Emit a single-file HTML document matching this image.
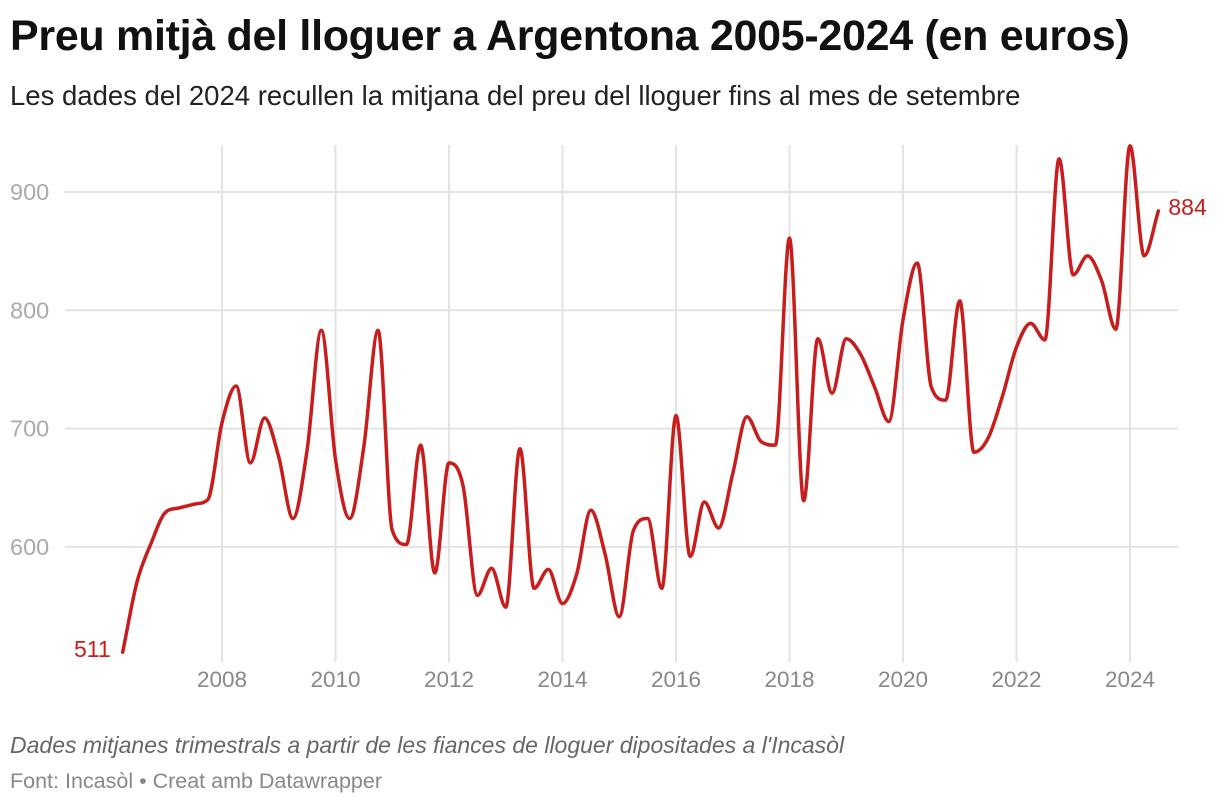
<!DOCTYPE html>
<html><head><meta charset="utf-8"><style>
body{margin:0;background:#fff;font-family:"Liberation Sans",sans-serif;}
.t{position:absolute;left:10px;top:12px;font-size:43px;font-weight:bold;color:#111;letter-spacing:-0.3px;white-space:nowrap;}
.s{position:absolute;left:10px;top:80px;font-size:27.5px;color:#222;white-space:nowrap;}
.n{position:absolute;left:10px;top:732px;font-size:23px;font-style:italic;color:#666;white-space:nowrap;}
.f{position:absolute;left:10px;top:769px;font-size:21.5px;color:#888;white-space:nowrap;}
</style></head><body>
<div class="t">Preu mitjà del lloguer a Argentona 2005-2024 (en euros)</div>
<div class="s">Les dades del 2024 recullen la mitjana del preu del lloguer fins al mes de setembre</div>
<svg id="c" width="1220" height="806" style="position:absolute;left:0;top:0"></svg>
<div class="n">Dades mitjanes trimestrals a partir de les fiances de lloguer dipositades a l'Incasòl</div>
<div class="f">Font: Incasòl • Creat amb Datawrapper</div>
<script>
const startYear = 2006.25;
const values = [511,570,603,629,633,636,640,705,736,671,709,676,624,682,783,674,624,685,783,614,602,686,578,671,651,559,582,549,683,565,581,552,577,631,594,541,614,624,565,711,592,638,616,662,710,689,686,861,639,776,730,776,763,735,706,792,840,735,724,808,680,692,727,769,789,775,928,830,846,825,784,939,846,884];
const yTicks = [600,700,800,900];
const xTicks = [2008,2010,2012,2014,2016,2018,2020,2022,2024];
const NS="http://www.w3.org/2000/svg";
const svg=document.getElementById('c');
const X=t=>222+56.75*(t-2008);
const Y=v=>192+(900-v)*1.183;
function mk(tag,a){const e=document.createElementNS(NS,tag);for(const k in a)e.setAttribute(k,a[k]);svg.appendChild(e);return e;}
yTicks.forEach(v=>{
  const l=mk('line',{x1:65,x2:1178,y1:Y(v),y2:Y(v),stroke:'#e3e3e3','stroke-width':2});
  
  
  const t=mk('text',{x:10,y:Y(v)+8,'font-size':23.5,fill:'#aaa','font-family':'Liberation Sans, sans-serif'});
  t.textContent=v;
  
  
});
xTicks.forEach(yr=>{
  const l=mk('line',{x1:X(yr),x2:X(yr),y1:145,y2:662,stroke:'#e3e3e3','stroke-width':2});
  
  
  const t=mk('text',{x:X(yr),y:687,'font-size':22.5,fill:'#888','text-anchor':'middle','font-family':'Liberation Sans, sans-serif'});
  t.textContent=yr;
  
  
});
const pts=values.map((v,i)=>[X(startYear+i*0.25),Y(v)]);
const n=pts.length,m=[],d=[];
for(let i=0;i<n-1;i++)d.push((pts[i+1][1]-pts[i][1])/(pts[i+1][0]-pts[i][0]));
for(let i=0;i<n;i++){
  if(i===0)m.push(d[0]);else if(i===n-1)m.push(d[n-2]);
  else{const a=d[i-1],b=d[i];if(a*b<=0)m.push(0);else{const s=Math.min(Math.abs(a),Math.abs(b));m.push(Math.sign(a)*Math.min(Math.abs((a+b)/2),3*s));}}
}
let p=`M${pts[0][0]},${pts[0][1]}`;
for(let i=0;i<n-1;i++){const h=(pts[i+1][0]-pts[i][0])/3;
  p+=` C${pts[i][0]+h},${pts[i][1]+m[i]*h} ${pts[i+1][0]-h},${pts[i+1][1]-m[i+1]*h} ${pts[i+1][0]},${pts[i+1][1]}`;}
const line=mk('path',{d:p,fill:'none',stroke:'#c71e1d','stroke-width':3.5,'stroke-linejoin':'round','stroke-linecap':'round'});


const a=mk('text',{x:pts[0][0]-12,y:pts[0][1]+5,'font-size':23,fill:'#c71e1d','text-anchor':'end','font-family':'Liberation Sans, sans-serif'});
a.textContent=values[0];


const b=mk('text',{x:pts[n-1][0]+10,y:pts[n-1][1]+4,'font-size':23,fill:'#c71e1d','font-family':'Liberation Sans, sans-serif'});
b.textContent=values[n-1];


</script>
</body></html>
